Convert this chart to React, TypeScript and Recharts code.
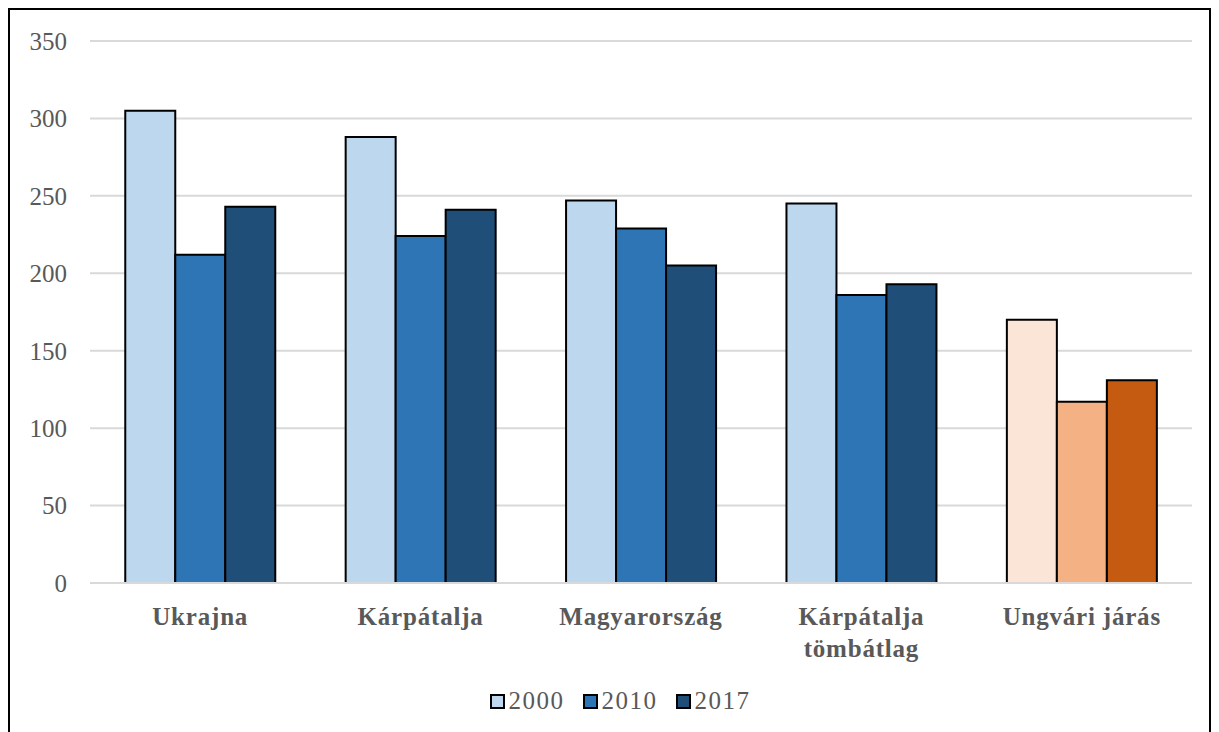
import { Bar, BarChart, CartesianGrid, Cell, Legend, XAxis, YAxis } from "recharts";

const categories = ["Ukrajna", "Kárpátalja", "Magyarország", "Kárpátalja\ntömbátlag", "Ungvári járás"];
const years = ["2000", "2010", "2017"];
const v2000 = [305, 288, 247, 245, 170];
const v2010 = [212, 224, 229, 186, 117];
const v2017 = [243, 241, 205, 193, 131];
const yTicks = [0, 50, 100, 150, 200, 250, 300, 350];

const blues = ["#BDD7EE", "#2E75B6", "#1F4E79"];
const oranges = ["#FBE5D6", "#F4B183", "#C55A11"];
const highlighted = "Ungvári járás";

const data = categories.map((name, i) => ({
  name,
  "2000": v2000[i],
  "2010": v2010[i],
  "2017": v2017[i],
}));

const font = "'Liberation Serif', 'Times New Roman', serif";
const grey = "#595959";

function CategoryTick({ x, y, payload }: any) {
  const lines = String(payload.value).split("\n");
  return (
    <text
      x={x}
      y={y}
      textAnchor="middle"
      fill={grey}
      fontFamily={font}
      fontSize={25}
      fontWeight="bold"
      letterSpacing={0.8}
    >
      {lines.map((l, i) => (
        <tspan key={i} x={x} dy={i === 0 ? 40 : 32}>
          {l}
        </tspan>
      ))}
    </text>
  );
}

function YearLegend() {
  return (
    <div
      style={{
        display: "flex",
        justifyContent: "center",
        alignItems: "center",
        fontFamily: font,
        fontSize: 25,
        letterSpacing: 1.5,
        color: grey,
        paddingLeft: 38,
      }}
    >
      {years.map((y, i) => (
        <span key={y} style={{ display: "flex", alignItems: "center", marginRight: i < years.length - 1 ? 18 : 0 }}>
          <span
            style={{
              width: 11,
              height: 11,
              background: blues[i],
              border: "2px solid #000",
              marginRight: 4,
              display: "inline-block",
            }}
          />
          {y}
        </span>
      ))}
    </div>
  );
}

export default function App() {
  return (
    <div style={{ position: "relative", width: 1203, height: 732, border: "2px solid #000", boxSizing: "border-box" }}>
      <BarChart
        width={1199}
        height={728}
        data={data}
        margin={{ top: 31, right: 17, left: 0, bottom: 11 }}
        barCategoryGap="16%"
        barGap={0}
      >
        <CartesianGrid vertical={false} stroke="#D9D9D9" strokeWidth={2} />
        <XAxis
          dataKey="name"
          height={104}
          tickLine={false}
          tickSize={0}
          axisLine={{ stroke: "#D9D9D9", strokeWidth: 2 }}
          tick={<CategoryTick />}
          interval={0}
        />
        <YAxis
          width={80}
          domain={[0, 350]}
          ticks={yTicks}
          axisLine={false}
          tickLine={false}
          tickSize={0}
          tickMargin={23}
          tick={{ fill: grey, fontFamily: font, fontSize: 25 }}
        />
        <Legend verticalAlign="bottom" height={40} content={<YearLegend />} />
        {years.map((y, si) => (
          <Bar key={y} dataKey={y} fill={blues[si]} stroke="#000" strokeWidth={2} isAnimationActive={false}>
            {data.map((d) => (
              <Cell key={d.name} fill={d.name === highlighted ? oranges[si] : blues[si]} />
            ))}
          </Bar>
        ))}
      </BarChart>
    </div>
  );
}
